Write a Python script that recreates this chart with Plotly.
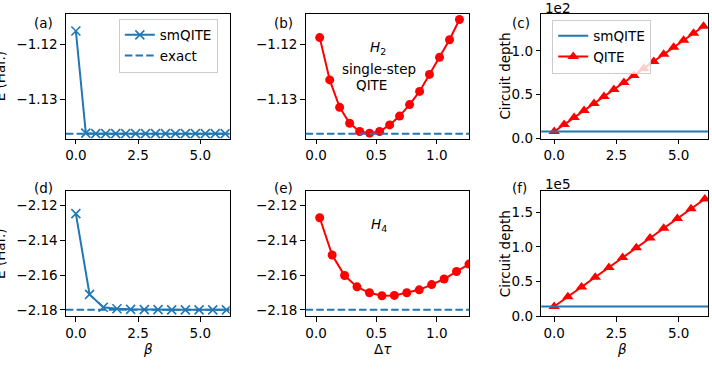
import plotly.graph_objects as go

# ---------------- data ----------------
beta_a = [0.0, 0.4, 0.8, 1.2, 1.6, 2.0, 2.4, 2.8, 3.2, 3.6, 4.0, 4.4, 4.8, 5.2, 5.6, 6.0]
e_smqite_h2 = [-1.1175, -1.1361, -1.1362, -1.1362, -1.1362, -1.1362, -1.1362, -1.1362,
               -1.1362, -1.1362, -1.1362, -1.1362, -1.1362, -1.1362, -1.1362, -1.1362]
exact_h2 = -1.1362

dtau_b = [0.03, 0.113, 0.195, 0.278, 0.361, 0.443, 0.526, 0.609, 0.691, 0.774, 0.857, 0.939, 1.022, 1.105, 1.187]
e_single_h2 = [-1.1187, -1.1264, -1.1314, -1.1343, -1.1358, -1.1361, -1.1358, -1.1346,
               -1.1330, -1.1309, -1.1285, -1.1254, -1.1223, -1.1191, -1.1154]

depth_smqite_h2 = 8
depth_qite_h2 = [8, 16, 24, 32, 40, 48, 56, 64, 72, 80, 88, 96, 104, 112, 120, 128]

beta_d = [0.0, 0.55, 1.1, 1.65, 2.2, 2.75, 3.3, 3.85, 4.4, 4.95, 5.5, 6.05]
e_smqite_h4 = [-2.1247, -2.1711, -2.1785, -2.1794, -2.1797, -2.1799, -2.1799, -2.1800,
               -2.1800, -2.1800, -2.1800, -2.1800]
exact_h4 = -2.1800

dtau_e = [0.03, 0.133, 0.236, 0.339, 0.442, 0.545, 0.648, 0.751, 0.854, 0.957, 1.06, 1.163, 1.266]
e_single_h4 = [-2.1271, -2.1485, -2.1603, -2.1668, -2.1702, -2.1719, -2.1717, -2.1702,
               -2.1685, -2.1655, -2.1623, -2.1580, -2.1537]

depth_smqite_h4 = 14100
depth_qite_h4 = [14100, 28200, 42300, 56400, 70500, 84600, 98700, 112800, 126900, 141000, 155100, 169200]

xt_beta = [0.0, 2.5, 5.0]
xt_dtau = [0.0, 0.5, 1.0]
yt_h2 = [-1.12, -1.13]
yt_h4 = [-2.12, -2.14, -2.16, -2.18]
yt_c = [0, 50, 100]
yt_c_txt = ["0.0", "0.5", "1.0"]
yt_f = [0, 50000, 100000, 150000]
yt_f_txt = ["0.0", "0.5", "1.0", "1.5"]

# ---------------- style ----------------
W, H = 712, 369
BLUE = "#1f77b4"
RED = "#ff0000"
FONT = "DejaVu Sans"
FS = 13.5
DASH = "7.5px,3.2px"

def px_x(p):
    return p / W

def px_y(p):
    return 1 - p / H

col_px = [(65, 229), (305, 469), (541, 708)]
row_px = [(14.3, 141.7), (195.7, 323.3)]

fig = go.Figure()

xranges = [[-0.40, 6.18], [-0.087, 1.269], [-0.52, 6.18],
           [-0.40, 6.18], [-0.087, 1.269], [-0.52, 6.18]]
yranges = [[-1.1371, -1.1144], [-1.1371, -1.1144], [0, 142],
           [-2.1837, -2.112], [-2.1837, -2.112], [0, 180000]]

layout_axes = {}
for i in range(6):
    r, c = divmod(i, 3)
    n = "" if i == 0 else str(i + 1)
    xd = [px_x(col_px[c][0]), px_x(col_px[c][1])]
    yd = [px_y(row_px[r][1]), px_y(row_px[r][0])]
    common = dict(showline=True, mirror=True, linecolor="black", linewidth=1,
                  ticks="outside", ticklen=4.5, tickwidth=1, tickcolor="black",
                  showgrid=False, zeroline=False,
                  tickfont=dict(family=FONT, size=FS, color="black"))
    if c == 1:
        xtv, xtt = xt_dtau, ["%.1f" % v for v in xt_dtau]
    else:
        xtv, xtt = xt_beta, ["%.1f" % v for v in xt_beta]
    layout_axes["xaxis" + n] = dict(common, domain=xd, range=xranges[i], anchor="y" + n,
                                    tickmode="array", tickvals=xtv, ticktext=xtt)
    if c == 2:
        ytv, ytt = (yt_c, yt_c_txt) if r == 0 else (yt_f, yt_f_txt)
    else:
        ytv = yt_h2 if r == 0 else yt_h4
        ytt = [("%.2f" % v).replace("-", "\u2212") for v in ytv]
    layout_axes["yaxis" + n] = dict(common, domain=yd, range=yranges[i], anchor="x" + n,
                                    tickmode="array", tickvals=ytv, ticktext=ytt)

# (a)
fig.add_trace(go.Scatter(x=beta_a, y=e_smqite_h2, mode="lines+markers", name="smQITE",
                         line=dict(color=BLUE, width=2),
                         marker=dict(symbol="x-thin-open", size=9, line=dict(color=BLUE, width=1.6)),
                         xaxis="x", yaxis="y", legend="legend"))
fig.add_trace(go.Scatter(x=[None], y=[None], mode="lines", name="exact",
                         line=dict(color=BLUE, width=2, dash=DASH),
                         xaxis="x", yaxis="y", legend="legend"))
# (b)
fig.add_trace(go.Scatter(x=dtau_b, y=e_single_h2, mode="lines+markers", showlegend=False,
                         line=dict(color=RED, width=2),
                         marker=dict(symbol="circle", size=9, color=RED),
                         xaxis="x2", yaxis="y2"))
# (c)
fig.add_trace(go.Scatter(x=[None], y=[None], mode="lines", name="smQITE",
                         line=dict(color=BLUE, width=2),
                         xaxis="x3", yaxis="y3", legend="legend2"))
fig.add_trace(go.Scatter(x=beta_a, y=depth_qite_h2, mode="lines+markers", name="QITE",
                         line=dict(color=RED, width=2),
                         marker=dict(symbol="triangle-up", size=10, color=RED),
                         xaxis="x3", yaxis="y3", legend="legend2"))
# (d)
fig.add_trace(go.Scatter(x=beta_d, y=e_smqite_h4, mode="lines+markers", showlegend=False,
                         line=dict(color=BLUE, width=2),
                         marker=dict(symbol="x-thin-open", size=9, line=dict(color=BLUE, width=1.6)),
                         xaxis="x4", yaxis="y4"))
# (e)
fig.add_trace(go.Scatter(x=dtau_e, y=e_single_h4, mode="lines+markers", showlegend=False,
                         line=dict(color=RED, width=2),
                         marker=dict(symbol="circle", size=9, color=RED),
                         xaxis="x5", yaxis="y5"))
# (f)
fig.add_trace(go.Scatter(x=beta_d, y=depth_qite_h4, mode="lines+markers", showlegend=False,
                         line=dict(color=RED, width=2),
                         marker=dict(symbol="triangle-up", size=10, color=RED),
                         xaxis="x6", yaxis="y6"))

# horizontal reference lines
hlines = [("x", "y", exact_h2, DASH), ("x2", "y2", exact_h2, DASH), ("x3", "y3", depth_smqite_h2, None),
          ("x4", "y4", exact_h4, DASH), ("x5", "y5", exact_h4, DASH), ("x6", "y6", depth_smqite_h4, None)]
shapes = []
for xa, ya, yv, dash in hlines:
    ln = dict(color=BLUE, width=2)
    if dash:
        ln["dash"] = dash
    shapes.append(dict(type="line", xref=xa + " domain", yref=ya, x0=0, x1=1, y0=yv, y1=yv,
                       line=ln, layer="above"))

def ann(text, x, y, size=FS, angle=0, xanchor="center", yanchor="middle"):
    return dict(text=text, x=px_x(x), y=px_y(y), xref="paper", yref="paper", showarrow=False,
                font=dict(family=FONT, size=size, color="black"), textangle=angle,
                xanchor=xanchor, yanchor=yanchor)

annotations = [
    ann("(a)", 42.5, 23), ann("(b)", 282.5, 23), ann("(c)", 521, 23),
    ann("(d)", 42.5, 192), ann("(e)", 282.5, 192), ann("(f)", 519.5, 192),
    ann("1e2", 557.5, 8), ann("1e5", 557.5, 188),
    ann("<i>H</i><sub>2</sub>", 378, 49), ann("single-step", 379, 71), ann("QITE", 371, 87),
    ann("<i>H</i><sub>4</sub>", 379, 230),
    ann("<i>β</i>", 147, 357), ann("Δ<i>τ</i>", 383, 357), ann("<i>β</i>", 622, 357),
    ann("E (Har.)", -1, 78, angle=-90), ann("E (Har.)", -1, 259.5, angle=-90),
    ann("Circuit depth", 505, 78, angle=-90), ann("Circuit depth", 505, 259.5, angle=-90),
]

legend_style = dict(font=dict(family=FONT, size=FS, color="black"), bgcolor="rgba(255,255,255,0.8)",
                    bordercolor="#cccccc", borderwidth=1, xanchor="left", yanchor="top",
                    itemwidth=30, tracegroupgap=0)

fig.update_layout(
    width=W, height=H, margin=dict(l=0, r=0, t=0, b=0),
    paper_bgcolor="white", plot_bgcolor="white",
    font=dict(family=FONT, size=FS, color="black"),
    legend=dict(legend_style, x=px_x(118), y=px_y(19)),
    legend2=dict(legend_style, x=px_x(552), y=px_y(20)),
    shapes=shapes, annotations=annotations,
    **layout_axes,
)

fig.write_html("out.html")
